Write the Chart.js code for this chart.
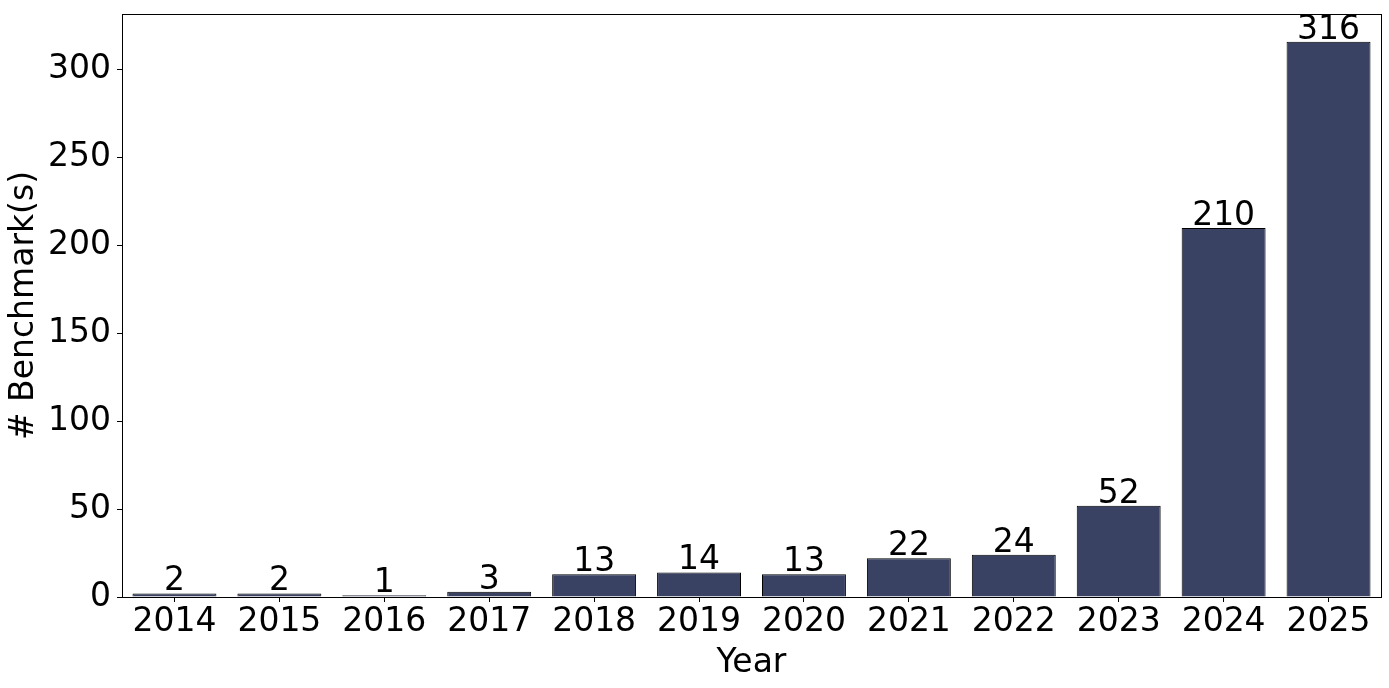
<!DOCTYPE html>
<html lang="en">
<head>
    <meta charset="UTF-8">
    <title>Benchmarks per year</title>
    <script src="https://cdn.jsdelivr.net/npm/chart.js"></script>
    <style>
        body { margin: 0; background: #fff; }
        #wrap { width: 1389px; height: 688px; }
    </style>
</head>
<body>
<div id="wrap">
    <canvas id="benchChart" width="1389" height="688"></canvas>
</div>
<script>
    const years = ['2014', '2015', '2016', '2017', '2018', '2019', '2020', '2021', '2022', '2023', '2024', '2025'];
    const counts = [2, 2, 1, 3, 13, 14, 13, 22, 24, 52, 210, 316];
    const yTicks = [0, 50, 100, 150, 200, 250, 300];

    const FONT = 'DejaVu Sans';
    const FS = 33;
    const BAR_COLOR = '#394263';

    // numbers on top of each bar + closed frame around plot area
    const extras = {
        id: 'extras',
        afterDatasetsDraw(chart) {
            const ctx = chart.ctx;
            const meta = chart.getDatasetMeta(0);
            ctx.save();
            ctx.fillStyle = '#000';
            ctx.font = FS + 'px "' + FONT + '"';
            ctx.textAlign = 'center';
            ctx.textBaseline = 'alphabetic';
            meta.data.forEach((bar, i) => {
                ctx.fillText(String(counts[i]), bar.x, bar.y - 3);
            });
            const a = chart.chartArea;
            ctx.strokeStyle = '#000';
            ctx.lineWidth = 1;
            ctx.strokeRect(Math.round(a.left) + 0.5, Math.round(a.top) + 0.5,
                Math.round(a.right - a.left), Math.round(a.bottom - a.top));
            ctx.restore();
        }
    };

    new Chart(document.getElementById('benchChart'), {
        type: 'bar',
        data: {
            labels: years,
            datasets: [{
                data: counts,
                backgroundColor: BAR_COLOR,
                borderColor: '#000',
                borderWidth: 1,
                categoryPercentage: 0.8,
                barPercentage: 1.0
            }]
        },
        options: {
            responsive: false,
            devicePixelRatio: 1,
            animation: false,
            layout: { padding: { top: 14, right: 8, left: 0, bottom: 0 } },
            plugins: {
                legend: { display: false },
                tooltip: { enabled: false }
            },
            scales: {
                x: {
                    grid: {
                        offset: false,
                        drawOnChartArea: false,
                        drawTicks: true,
                        tickLength: 5,
                        color: '#000'
                    },
                    border: { display: true, color: '#000' },
                    ticks: {
                        color: '#000',
                        font: { family: FONT, size: FS },
                        padding: 1,
                        maxRotation: 0,
                        autoSkip: false
                    },
                    title: {
                        display: true,
                        text: 'Year',
                        color: '#000',
                        font: { family: FONT, size: FS },
                        padding: { top: 0, bottom: 5 }
                    },
                    afterFit(scale) {
                        scale.height = 91;
                        scale.paddingLeft = 0;
                        scale.paddingRight = 0;
                    }
                },
                y: {
                    min: 0,
                    max: 331.8,
                    grid: {
                        drawOnChartArea: false,
                        drawTicks: true,
                        tickLength: 5,
                        color: '#000'
                    },
                    border: { display: true, color: '#000' },
                    ticks: {
                        color: '#000',
                        font: { family: FONT, size: FS },
                        padding: 6,
                        stepSize: 50
                    },
                    afterBuildTicks(scale) {
                        scale.ticks = yTicks.map(v => ({ value: v }));
                    },
                    title: {
                        display: true,
                        text: '# Benchmark(s)',
                        color: '#000',
                        font: { family: FONT, size: FS },
                        padding: { top: 5, bottom: 0 }
                    },
                    afterFit(scale) {
                        scale.width = 122;
                        scale.paddingTop = 0;
                        scale.paddingBottom = 0;
                    }
                }
            }
        },
        plugins: [extras]
    });
</script>
</body>
</html>
